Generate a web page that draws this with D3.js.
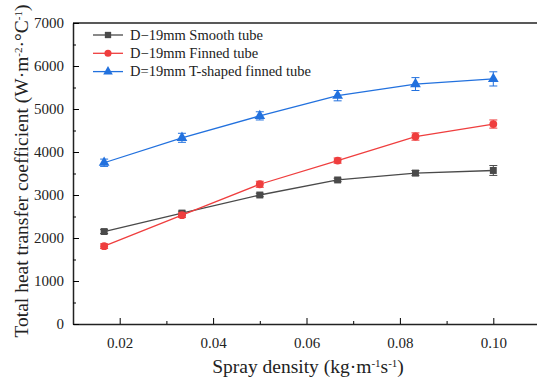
<!DOCTYPE html>
<html>
<head>
<meta charset="utf-8">
<script src="https://cdn.jsdelivr.net/npm/d3@7"></script>
<style>
  body { margin: 0; background: #fff; }
  svg text { font-family: "Liberation Serif", "Times New Roman", serif !important; }
</style>
</head>
<body>
<div id="chart"></div>
<script>
// spray density (kg/m/s)
var density = [1/60, 2/60, 3/60, 4/60, 5/60, 6/60];

var seriesNames = ["D\u221219mm Smooth tube", "D\u221219mm Finned tube", "D=19mm T-shaped finned tube"];
var smooth = [2150, 2580, 3000, 3350, 3510, 3570];
var smoothErr = [45, 45, 40, 40, 60, 115];
var finned = [1810, 2530, 3250, 3800, 4360, 4650];
var finnedErr = [55, 55, 70, 60, 85, 95];
var tshaped = [3750, 4330, 4840, 5310, 5580, 5700];
var tshapedErr = [85, 105, 95, 120, 150, 165];

var xTicks = [0.02, 0.04, 0.06, 0.08, 0.10];
var yTicks = [0, 1000, 2000, 3000, 4000, 5000, 6000, 7000];

var colors = ["#4a4a4a", "#ef3e3e", "#2271de"];
var markers = [d3.symbolSquare, d3.symbolCircle, d3.symbolTriangle];

var W = 537, H = 385;
var margin = {top: 23, right: -3, bottom: 61, left: 73};

var svg = d3.select("#chart").append("svg")
    .attr("width", W)
    .attr("height", H);

var x = d3.scaleLinear().domain([0.01, 0.11]).range([margin.left, W - margin.right]);
var y = d3.scaleLinear().domain([0, 7000]).range([H - margin.bottom, margin.top]);

// top frame line
svg.append("line")
    .attr("x1", margin.left).attr("x2", W)
    .attr("y1", y(7000)).attr("y2", y(7000))
    .attr("stroke", "#222").attr("stroke-width", 1.5);

// x axis, ticks pointing inward
var xAxis = svg.append("g")
    .attr("transform", "translate(0," + y(0) + ")")
    .call(d3.axisBottom(x).tickValues(xTicks).tickFormat(d3.format(".2f")).tickSizeInner(-6).tickSizeOuter(0).tickPadding(13));
xAxis.select(".domain").attr("stroke", "#222").attr("stroke-width", 1.5);
xAxis.selectAll("text").attr("font-size", 15).attr("fill", "#222");

svg.append("g")
    .attr("transform", "translate(0," + y(0) + ")")
    .call(d3.axisBottom(x).tickValues([0.03, 0.05, 0.07, 0.09, 0.11]).tickFormat("").tickSizeInner(-3).tickSizeOuter(0))
    .select(".domain").remove();

// y axis
var yAxis = svg.append("g")
    .attr("transform", "translate(" + margin.left + ",0)")
    .call(d3.axisLeft(y).tickValues(yTicks).tickFormat(d3.format("d")).tickSizeInner(-6).tickSizeOuter(0).tickPadding(9));
yAxis.select(".domain").attr("stroke", "#222").attr("stroke-width", 1.5);
yAxis.selectAll("text").attr("font-size", 15).attr("fill", "#222");

svg.append("g")
    .attr("transform", "translate(" + margin.left + ",0)")
    .call(d3.axisLeft(y).tickValues(d3.range(500, 7000, 1000)).tickFormat("").tickSizeInner(-3).tickSizeOuter(0))
    .select(".domain").remove();

// axis titles
var xt = svg.append("text")
    .attr("x", 308).attr("y", 373)
    .attr("text-anchor", "middle")
    .attr("font-size", 19.5).attr("fill", "#222");
xt.append("tspan").text("Spray density (kg\u00b7m");
xt.append("tspan").attr("baseline-shift", "super").attr("font-size", 11).text("-1");
xt.append("tspan").text("s");
xt.append("tspan").attr("baseline-shift", "super").attr("font-size", 11).text("-1");
xt.append("tspan").text(")");

var yt = svg.append("text")
    .attr("transform", "translate(28," + 171 + ") rotate(-90)")
    .attr("text-anchor", "middle")
    .attr("font-size", 19.5).attr("fill", "#222");
yt.append("tspan").text("Total heat transfer coefficient (W\u00b7m");
yt.append("tspan").attr("baseline-shift", "super").attr("font-size", 11).text("-2");
yt.append("tspan").text("\u00b7\u00b0C");
yt.append("tspan").attr("baseline-shift", "super").attr("font-size", 11).text("-1");
yt.append("tspan").text(")");

// series
var allSeries = [
  {vals: smooth, err: smoothErr},
  {vals: finned, err: finnedErr},
  {vals: tshaped, err: tshapedErr}
];

var line = d3.line().x(function(d){ return x(d[0]); }).y(function(d){ return y(d[1]); });

allSeries.forEach(function(s, k) {
  var pts = density.map(function(d, i){ return [d, s.vals[i], s.err[i]]; });
  var g = svg.append("g");

  g.append("path")
      .attr("d", line(pts))
      .attr("fill", "none")
      .attr("stroke", colors[k])
      .attr("stroke-width", 1.3);

  // error bars
  pts.forEach(function(p) {
    var cx = x(p[0]);
    g.append("line").attr("x1", cx).attr("x2", cx)
        .attr("y1", y(p[1] - p[2])).attr("y2", y(p[1] + p[2]))
        .attr("stroke", colors[k]).attr("stroke-width", 1);
    [p[1] - p[2], p[1] + p[2]].forEach(function(v) {
      g.append("line").attr("x1", cx - 4).attr("x2", cx + 4)
          .attr("y1", y(v)).attr("y2", y(v))
          .attr("stroke", colors[k]).attr("stroke-width", 1);
    });
  });

  g.selectAll("path.mk")
      .data(pts)
      .enter().append("path")
      .attr("class", "mk")
      .attr("d", d3.symbol().type(markers[k]).size(k == 2 ? 50 : 48))
      .attr("transform", function(d){ return "translate(" + x(d[0]) + "," + y(d[1]) + ")"; })
      .attr("fill", colors[k]);
});

// legend
var legend = svg.append("g").attr("transform", "translate(93,35)");
seriesNames.forEach(function(name, k) {
  var row = legend.append("g").attr("transform", "translate(0," + (k * 18.3) + ")");
  row.append("line").attr("x1", 0).attr("x2", 30).attr("y1", 0).attr("y2", 0)
      .attr("stroke", colors[k]).attr("stroke-width", 1.3);
  row.append("path")
      .attr("d", d3.symbol().type(markers[k]).size(40))
      .attr("transform", "translate(15,0)")
      .attr("fill", colors[k]);
  row.append("text")
      .attr("x", 37).attr("y", 4.5)
      .attr("font-size", 14.5).attr("fill", "#222")
      .text(name);
});
</script>
</body>
</html>
